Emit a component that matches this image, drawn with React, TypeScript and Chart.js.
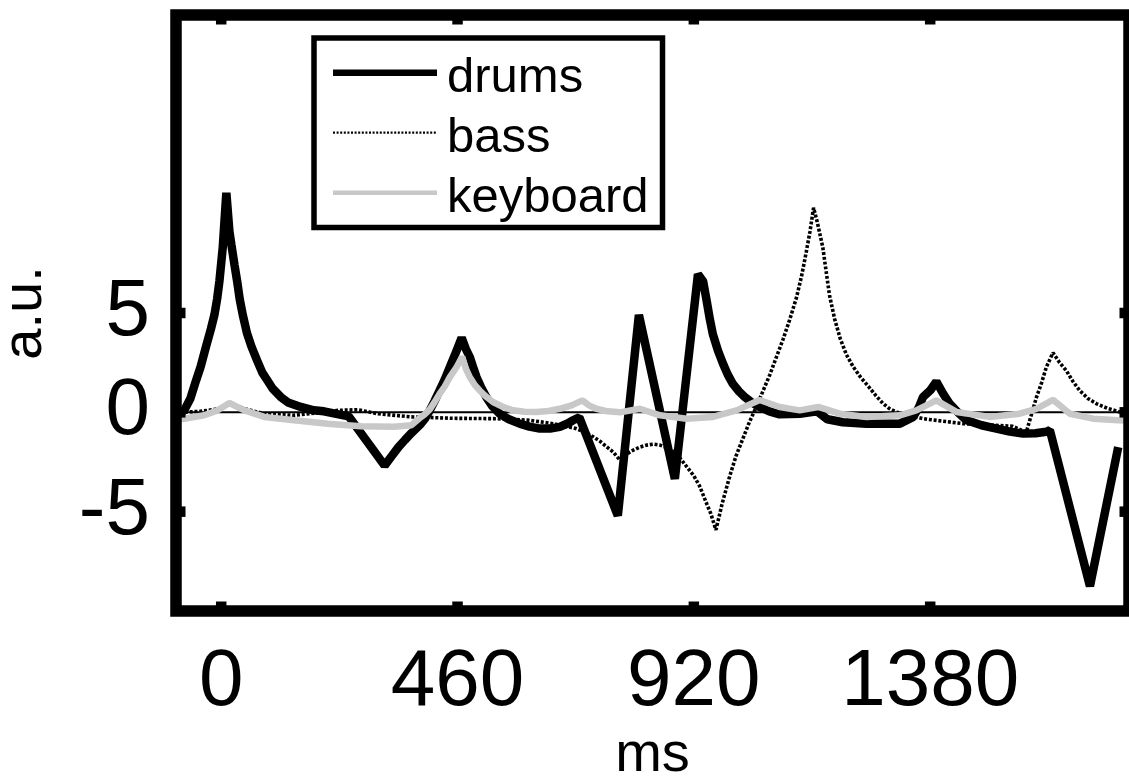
import React, { useEffect, useRef } from 'react';
import { Chart, registerables } from 'chart.js';

Chart.register(...registerables);

const FONT = '"Liberation Sans", Arial, Helvetica, sans-serif';

// axis settings
const xTickValues = [0, 460, 920, 1380];
const yTickValues = [-5, 0, 5];
const X_MIN = -88;
const X_MAX = 1767;
const Y_MIN = -10;
const Y_MAX = 20;
const xTitle = 'ms';
const yTitle = 'a.u.';

const seriesLabels = ['drums', 'bass', 'keyboard'];

// drums (thick black)
const drumsMs = [-80, -72, -60, -49, -40, -30, -20, -13, -8, -3.5, 3, 10, 16, 20, 26, 31, 36, 42, 50, 59, 70, 80, 90, 100, 116, 130, 155, 180, 200, 248,
  318, 332, 345, 358, 370, 380, 388, 397, 406, 415, 425, 435, 445, 455, 468,
  476, 484, 490, 497, 506, 516, 528, 542, 560, 581, 600, 620, 640, 659, 675, 685, 697,
  772, 813, 883, 928, 938, 945, 951, 957, 967, 977, 986, 996, 1008, 1020, 1034, 1048, 1067, 1087, 1126,
  1160, 1180, 1210, 1256, 1321, 1347, 1358, 1366, 1380, 1392, 1405, 1418, 1434, 1451, 1480, 1509, 1535, 1561, 1585, 1606, 1613, 1691, 1746];
const drumsVal = [-0.05, 0.1, 0.7, 1.6, 2.3, 3.27, 4.2, 4.93, 5.7, 6.6, 8.3, 11.05, 9.1, 8.4, 7.4, 6.6, 5.7, 4.9, 4.0, 3.3, 2.6, 2.0, 1.6, 1.2, 0.77, 0.5, 0.27, 0.1, 0.05, -0.2,
  -2.68, -2.2, -1.75, -1.38, -1.05, -0.8, -0.6, -0.3, 0.1, 0.55, 1.1, 1.65, 2.27, 2.9, 3.75,
  3.2, 2.77, 2.3, 1.77, 1.25, 0.77, 0.3, -0.07, -0.35, -0.57, -0.72, -0.82, -0.82, -0.73, -0.55, -0.4, -0.25,
  -5.2, 4.9, -3.35, 6.95, 6.6, 5.6, 4.7, 3.93, 3.1, 2.43, 1.9, 1.43, 1.05, 0.75, 0.48, 0.27, 0.05, -0.1, -0.07,
  0.05, -0.35, -0.5, -0.57, -0.57, -0.23, 0.25, 0.77, 1.1, 1.55, 0.95, 0.43, 0.0, -0.4, -0.65, -0.82, -0.97, -1.07, -1.05, -0.98, -0.9, -8.75, -1.75];

// bass (dotted)
const bassMs = [-80, -40, 0, 18, 45, 84, 140, 200, 227, 266,
  305, 369, 451, 536, 600, 646, 691, 708, 724, 737, 750, 763, 776,
  789, 802, 815, 828, 841, 854, 870, 886, 906, 920, 931, 945, 953, 963,
  975, 990, 1002, 1015, 1028, 1042, 1055, 1068, 1081, 1094, 1107, 1120, 1130, 1139, 1146, 1153,
  1160, 1171, 1178, 1184, 1194, 1205, 1217, 1230, 1245, 1260, 1274, 1288, 1300, 1315,
  1366, 1444, 1540, 1567, 1575, 1587, 1597, 1606, 1619, 1632, 1645, 1658, 1671, 1687, 1704, 1725, 1749, 1770];
const bassVal = [0, 0.05, 0.2, 0.45, 0.18, -0.07, -0.15, 0, 0.1, 0.13,
  -0.07, -0.23, -0.3, -0.32, -0.4, -0.57, -0.82, -1.0, -1.23, -1.45, -1.73, -2.0, -2.4,
  -2.1, -1.9, -1.75, -1.65, -1.6, -1.65, -1.8, -2.07, -2.73, -3.2, -3.7, -4.6, -5.1, -5.92,
  -4.6, -3.2, -2.2, -1.35, -0.5, 0.3, 1.1, 1.9, 2.8, 3.7, 4.7, 5.8, 6.9, 8.1, 9.1, 10.3,
  9.6, 8.3, 7.0, 5.9, 4.7, 3.7, 2.9, 2.3, 1.75, 1.3, 0.85, 0.45, 0.2, 0,
  -0.32, -0.57, -0.7, -1.0, -0.3, 0.77, 1.5, 2.27, 3.0, 2.5, 2.1, 1.55, 1.1, 0.7, 0.43, 0.2, 0.02, 0];

// keyboard (light grey)
const keyboardMs = [-80, -72, -33, -7, 16, 45, 84, 142, 207, 272,
  337, 370, 386, 396, 406, 415, 425, 435, 445, 458, 469, 476, 484, 493, 503, 515, 529, 548, 568, 590,
  614, 637, 659, 682, 703, 716, 730, 752, 776, 815, 854, 906,
  957, 1003, 1048, 1087, 1126, 1162, 1204, 1256, 1321, 1353,
  1392, 1431, 1496, 1554, 1587, 1619, 1652, 1697, 1746, 1770];
const keyboardVal = [-0.35, -0.32, -0.15, 0.1, 0.47, 0.1, -0.23, -0.4, -0.57, -0.7,
  -0.73, -0.65, -0.3, -0.1, 0.15, 0.5, 0.93, 1.3, 1.77, 2.27, 2.8, 2.2, 1.77, 1.4, 1.1, 0.8, 0.52, 0.28, 0.1, 0.03,
  0.02, 0.07, 0.18, 0.35, 0.6, 0.35, 0.18, 0.05, 0, 0.18, -0.15, -0.32,
  -0.23, 0.1, 0.62, 0.27, 0.1, 0.27, -0.07, -0.23, -0.15, 0.1,
  0.6, 0.02, -0.23, -0.07, 0.18, 0.63, -0.07, -0.32, -0.4, -0.42];

const toPoints = (xs: number[], ys: number[]) => xs.map((x, i) => ({ x, y: ys[i] }));

const legendStyles = [
  { color: '#000000', width: 6.5, dash: [] as number[] },
  { color: '#000000', width: 2.2, dash: [2, 1.6] },
  { color: '#c8c8c8', width: 4.5, dash: [] as number[] },
];

const zeroLinePlugin = {
  id: 'zeroLine',
  beforeDatasetsDraw(chart: any) {
    const { ctx, chartArea: a, scales } = chart;
    const y = scales.y.getPixelForValue(0);
    ctx.save();
    ctx.strokeStyle = '#000';
    ctx.lineWidth = 2;
    ctx.beginPath();
    ctx.moveTo(a.left, y);
    ctx.lineTo(a.right, y);
    ctx.stroke();
    ctx.restore();
  },
};

const boxLegendPlugin = {
  id: 'boxLegend',
  afterDatasetsDraw(chart: any) {
    const { ctx, chartArea: a } = chart;
    const bx = a.left + 138;
    const by = a.top + 23;
    const bw = 348.5;
    const bh = 189.5;
    ctx.save();
    ctx.fillStyle = '#fff';
    ctx.fillRect(bx, by, bw, bh);
    ctx.lineWidth = 5.5;
    ctx.strokeStyle = '#000';
    ctx.strokeRect(bx, by, bw, bh);
    chart.data.datasets.forEach((ds: any, i: number) => {
      const st = legendStyles[i];
      const ly = a.top + 57.7 + i * 60;
      ctx.save();
      ctx.strokeStyle = st.color;
      ctx.lineWidth = st.width;
      ctx.setLineDash(st.dash);
      ctx.beginPath();
      ctx.moveTo(a.left + 157, ly);
      ctx.lineTo(a.left + 261, ly);
      ctx.stroke();
      ctx.restore();
      ctx.fillStyle = '#000';
      ctx.font = `49px ${FONT}`;
      ctx.textAlign = 'left';
      ctx.textBaseline = 'alphabetic';
      ctx.fillText(ds.label, a.left + 271, a.top + 76.7 + i * 60);
    });
    ctx.restore();
  },
};

const framePlugin = {
  id: 'frame',
  afterDraw(chart: any) {
    const { ctx, chartArea: a, scales } = chart;
    const lw = 11.5;
    const tl = 9.5;
    const tw = 10.5;
    ctx.save();
    ctx.fillStyle = '#000';
    xTickValues.forEach((v) => {
      const px = scales.x.getPixelForValue(v);
      ctx.fillRect(px - tw / 2, a.bottom - tl, tw, tl);
      ctx.fillRect(px - tw / 2, a.top, tw, tl);
    });
    yTickValues.forEach((v) => {
      const py = scales.y.getPixelForValue(v);
      ctx.fillRect(a.left, py - tw / 2, tl, tw);
      ctx.fillRect(a.right - tl, py - tw / 2, tl, tw);
    });
    ctx.strokeStyle = '#000';
    ctx.lineWidth = lw;
    ctx.strokeRect(a.left, a.top, a.right - a.left, a.bottom - a.top);
    ctx.restore();
  },
};

export default function App() {
  const ref = useRef<HTMLCanvasElement>(null);

  useEffect(() => {
    const canvas = ref.current;
    if (!canvas) return;
    const chart = new Chart(canvas, {
      type: 'line',
      data: {
        datasets: [
          {
            label: seriesLabels[0],
            data: toPoints(drumsMs, drumsVal),
            borderColor: '#000000',
            borderWidth: 8.5,
            borderJoinStyle: 'bevel',
            pointRadius: 0,
            tension: 0,
            order: 2,
          },
          {
            label: seriesLabels[1],
            data: toPoints(bassMs, bassVal),
            borderColor: '#000000',
            borderWidth: 3.6,
            borderDash: [3, 1.8],
            borderJoinStyle: 'bevel',
            pointRadius: 0,
            tension: 0,
            order: 1,
          },
          {
            label: seriesLabels[2],
            data: toPoints(keyboardMs, keyboardVal),
            borderColor: '#c8c8c8',
            borderWidth: 6.5,
            borderJoinStyle: 'bevel',
            pointRadius: 0,
            tension: 0,
            order: 0,
          },
        ],
      },
      options: {
        animation: false,
        responsive: false,
        devicePixelRatio: 1,
        events: [],
        layout: { padding: { top: 15, left: 0, right: 0, bottom: 0 } },
        plugins: {
          legend: { display: false },
          tooltip: { enabled: false },
        },
        scales: {
          x: {
            type: 'linear',
            min: X_MIN,
            max: X_MAX,
            afterBuildTicks: (s: any) => {
              s.ticks = xTickValues.map((v) => ({ value: v }));
            },
            afterFit: (s: any) => {
              s.height = 173;
              s.paddingLeft = 0;
              s.paddingRight = 0;
              s.paddingTop = 0;
              s.paddingBottom = 0;
            },
            grid: { display: false },
            border: { display: false },
            ticks: {
              autoSkip: false,
              maxRotation: 0,
              minRotation: 0,
              padding: 16,
              color: '#000',
              font: { family: FONT, size: 80 },
              callback: (v: any) => String(v),
            },
            title: {
              display: true,
              text: xTitle,
              color: '#000',
              padding: 0,
              font: { family: FONT, size: 56, lineHeight: 1.01 },
            },
          },
          y: {
            type: 'linear',
            min: Y_MIN,
            max: Y_MAX,
            afterBuildTicks: (s: any) => {
              s.ticks = yTickValues.map((v) => ({ value: v }));
            },
            afterFit: (s: any) => {
              s.width = 176;
              s.paddingLeft = 0;
              s.paddingRight = 0;
              s.paddingTop = 0;
              s.paddingBottom = 0;
            },
            grid: { display: false },
            border: { display: false },
            ticks: {
              autoSkip: false,
              padding: 18,
              color: '#000',
              font: { family: FONT, size: 80 },
              callback: (v: any) => String(v),
            },
            title: {
              display: true,
              text: yTitle,
              color: '#000',
              padding: 0,
              font: { family: FONT, size: 56, lineHeight: 0.91 },
            },
          },
        },
      },
      plugins: [zeroLinePlugin, boxLegendPlugin, framePlugin],
    } as any);
    return () => chart.destroy();
  }, []);

  return (
    <div style={{ position: 'absolute', left: 0, top: 0, width: 1129, height: 784, background: '#fff' }}>
      <canvas ref={ref} width={1129} height={784} style={{ display: 'block', width: 1129, height: 784 }} />
    </div>
  );
}
